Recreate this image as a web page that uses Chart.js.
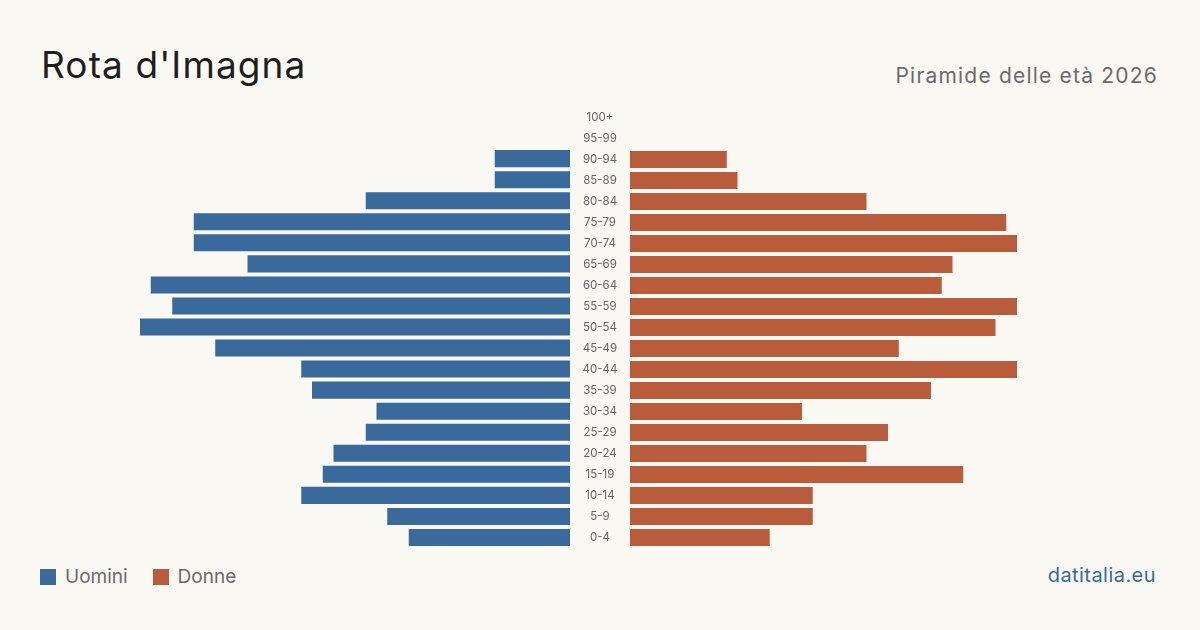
<!DOCTYPE html>
<html>
<head>
<meta charset="utf-8">
<script src="https://cdn.jsdelivr.net/npm/chart.js@4"></script>
<style>
  html, body { margin: 0; padding: 0; }
  body { width: 1200px; height: 630px; background: #f9f8f3; position: relative; overflow: hidden; font-family: Inter, "Noto Sans", sans-serif; }
  #title { position: absolute; left: 41px; top: 42px; font-size: 37px; color: #1e1e1e; font-weight: 400; letter-spacing: 1.1px; }
  #subtitle { position: absolute; right: 42px; top: 63px; font-size: 21px; color: #6b6b6b; letter-spacing: 1.2px; }
  #legend { position: absolute; left: 40px; top: 565px; font-size: 19px; color: #6b6b6b; display: flex; align-items: center; }
  .sw { width: 16px; height: 16px; display: inline-block; margin-right: 9px; }
  .item { display: flex; align-items: center; margin-right: 25px; }
  #brand { position: absolute; right: 44px; top: 563px; font-size: 20px; color: #3a6a9c; letter-spacing: 0.45px; }
  #left { position: absolute; left: 140px; top: 106px; }
  #right { position: absolute; left: 570px; top: 107px; }
</style>
</head>
<body>
<div id="title">Rota d'Imagna</div>
<div id="subtitle">Piramide delle età 2026</div>
<canvas id="left" width="430" height="442"></canvas>
<canvas id="right" width="490" height="441"></canvas>
<div id="legend">
  <div class="item"><span class="sw" style="background:#3a6a9c"></span>Uomini</div>
  <div class="item"><span class="sw" style="background:#b85c3c"></span>Donne</div>
</div>
<div id="brand">datitalia.eu</div>
<script>
const categories = ["0-4","5-9","10-14","15-19","20-24","25-29","30-34","35-39","40-44","45-49","50-54","55-59","60-64","65-69","70-74","75-79","80-84","85-89","90-94","95-99","100+"];
const uomini = [15,17,25,23,22,19,18,24,25,33,40,37,39,30,35,35,19,7,7,0,0];
const donne  = [13,17,17,31,22,24,16,28,36,25,34,36,29,30,36,35,22,10,9,0,0];
const axisMax = 40;
const colUomini = "#3a6a9c";
const colDonne = "#b85c3c";

const common = {
  indexAxis: 'y',
  responsive: false,
  animation: false,
  layout: { padding: 0, autoPadding: false },
  plugins: { legend: { display: false }, tooltip: { enabled: false }, title: { display: false } }
};

new Chart(document.getElementById('left'), {
  type: 'bar',
  data: { labels: categories, datasets: [{ label: 'Uomini', data: uomini, backgroundColor: colUomini, borderWidth: 0, categoryPercentage: 1, barPercentage: 0.81 }] },
  options: Object.assign({}, common, {
    scales: {
      x: { display: false, min: 0, max: axisMax, reverse: true },
      y: { display: false, reverse: true }
    }
  })
});

new Chart(document.getElementById('right'), {
  type: 'bar',
  data: { labels: categories, datasets: [{ label: 'Donne', data: donne, backgroundColor: colDonne, borderWidth: 0, categoryPercentage: 1, barPercentage: 0.81 }] },
  options: Object.assign({}, common, {
    scales: {
      x: { display: false, min: 0, max: axisMax },
      y: {
        reverse: true,
        position: 'left',
        grid: { display: false, drawTicks: false },
        border: { display: false },
        ticks: {
          crossAlign: 'center',
          padding: 14,
          color: '#666666',
          font: { family: 'Inter', size: 11.5 }
        },
        afterFit: function(scale) {
          scale.width = 60;
          try {
            const sizes = scale._getLabelSizes();
            scale.options.ticks.padding = 30 - sizes.widest.width / 2;
          } catch (e) {}
          scale.paddingTop = 0;
          scale.paddingBottom = 0;
        }
      }
    }
  })
});
</script>
</body>
</html>
